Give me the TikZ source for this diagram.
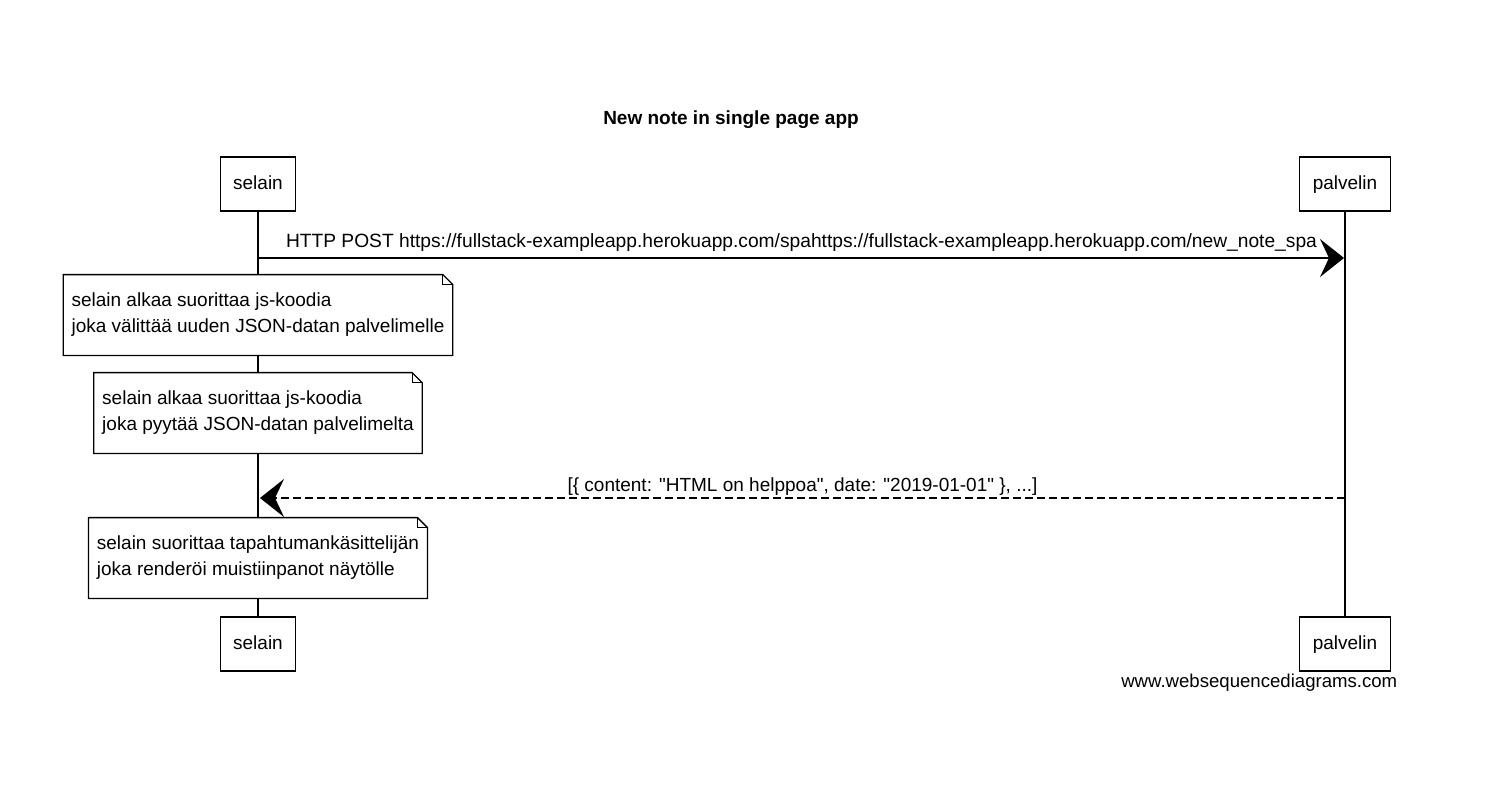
\documentclass[tikz,border=0pt]{standalone}
\usepackage{fontspec}
\setmainfont{Liberation Sans}
\usetikzlibrary{calc}
\usetikzlibrary{arrows.meta}

\begin{document}
\begin{tikzpicture}[x=1pt, y=-1pt, thick,
  every node/.style={font=\fontsize{19}{26}\selectfont},
  actor/.style={draw, fill=white, line width=1.3pt, inner xsep=13pt, minimum height=54pt, text height=14pt, text depth=4pt},
  note/.style={fill=white, align=left, inner xsep=8pt, minimum height=80pt},
  msg/.style={line width=1.4pt, -{Stealth[length=24pt, width=38pt, inset=9pt]}},
  reply/.style={msg, dash pattern=on 8pt off 4pt}]
  \useasboundingbox (0,0) rectangle (1493,789);
  \node[font=\bfseries\fontsize{19}{26}\selectfont] (title) at (731,120) {New note in single page app};
  \node[actor] (selainA) at (258,184) {selain};
  \node[actor] (palvelinA) at (1345,184) {palvelin};
  \node[actor] (selainB) at (258,644) {selain};
  \node[actor] (palvelinB) at (1345,644) {palvelin};
  \draw[line width=1.1pt] (selainA) -- (selainB);
  \draw[line width=1.1pt] (palvelinA) -- (palvelinB);
  \coordinate (postS) at (259,258);
  \coordinate (postE) at (1344,258);
  \draw[msg] (postS) -- (postE) node[midway, above=2pt, font=\fontsize{19.2}{26}\selectfont] (postL) {HTTP POST https://fullstack-exampleapp.herokuapp.com/spahttps://fullstack-exampleapp.herokuapp.com/new\_note\_spa};
  \node[note] (noteA) at (258,315) {selain alkaa suorittaa js-koodia\\joka välittää uuden JSON-datan palvelimelle};
  \node[note] (noteB) at (258,413) {selain alkaa suorittaa js-koodia\\joka pyytää JSON-datan palvelimelta};
  \coordinate (dataS) at (1345,498);
  \coordinate (dataE) at (260,498);
  \draw[reply] (dataS) -- (dataE) node[midway, above=-1pt] (dataL) {[\{ content: \textquotedbl HTML on helppoa\textquotedbl, date: \textquotedbl 2019-01-01\textquotedbl\ \}, ...]};
  \node[note] (noteC) at (258,558) {selain suorittaa tapahtumankäsittelijän\\joka renderöi muistiinpanot näytölle};
  \foreach \n in {noteA, noteB, noteC} {
    \draw[line width=1.3pt] (\n.south west) -- (\n.north west) -- ($(\n.north east)+(-10,0)$) -- ($(\n.north east)+(0,10)$) -- (\n.south east) -- cycle;
    \draw[line width=1pt] ($(\n.north east)+(-10,0)$) -- ($(\n.north east)+(-10,10)$) -- ($(\n.north east)+(0,10)$);
  }
  \node[anchor=east, font=\fontsize{18.6}{26}\selectfont] (credit) at (1401,683) {www.websequencediagrams.com};
\end{tikzpicture}
\end{document}
